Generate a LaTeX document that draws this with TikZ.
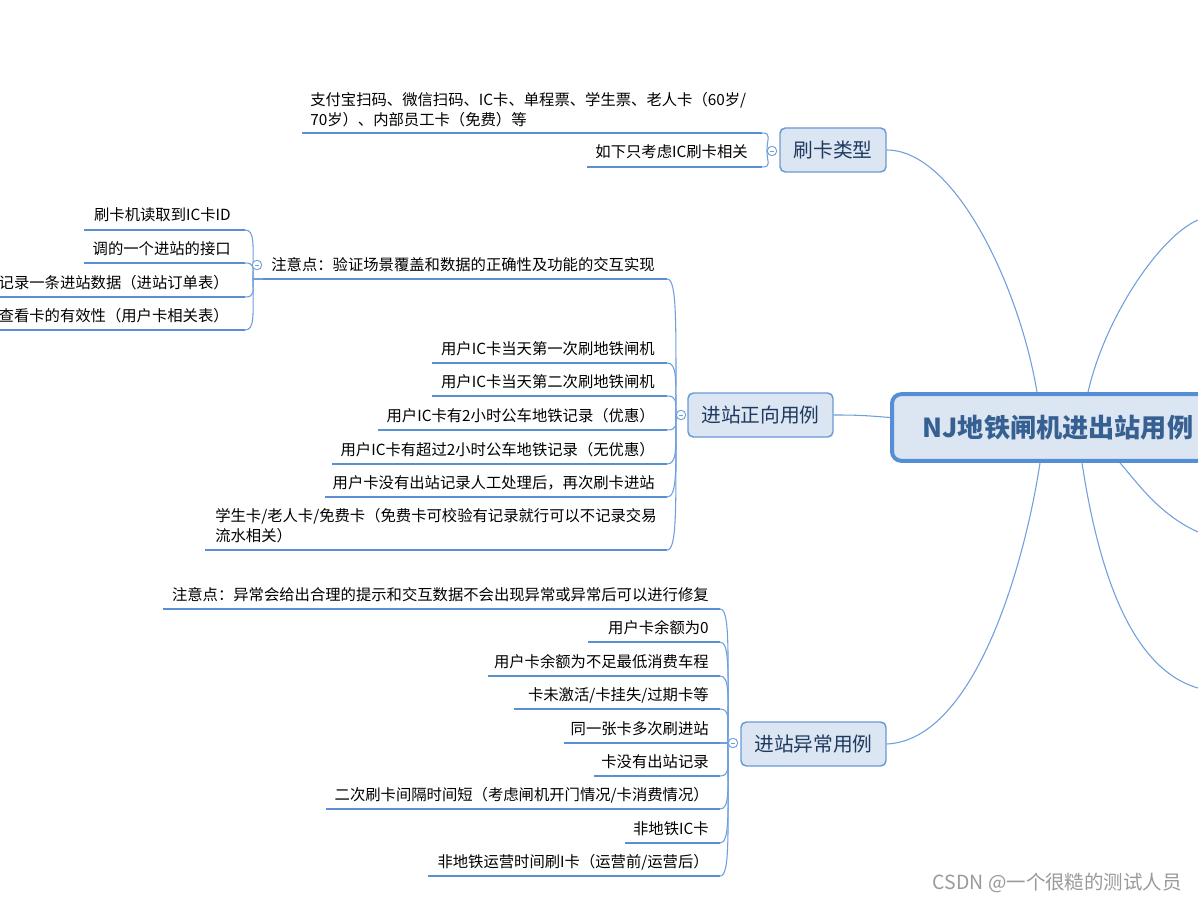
\documentclass[tikz,border=0pt]{standalone}
\usepackage{fontspec}
\setmainfont{Noto Sans CJK SC}
\usetikzlibrary{calc}
\definecolor{ulc}{HTML}{5B8FD3}
\definecolor{cnc}{HTML}{6F9FDC}
\definecolor{boxfill}{HTML}{DCE6F2}
\definecolor{boxdraw}{HTML}{6A9AD6}
\definecolor{cdraw}{HTML}{558ED5}
\definecolor{ctext}{HTML}{376092}
\definecolor{btext}{HTML}{1F3A60}
\definecolor{wmtext}{HTML}{9A9A9A}
\tikzset{
 uline/.style={draw=ulc, line width=2.2pt},
 conn/.style={draw=cnc, line width=0.8pt},
 leaf/.style={font=\fontsize{11.5}{15}\selectfont, inner sep=0pt, text=black},
 topic/.style={draw=boxdraw, fill=boxfill, line width=1.1pt, rounded corners=4pt, minimum height=33pt, font=\fontsize{14.8}{18}\selectfont, text=btext, inner xsep=0pt},
 root/.style={draw=cdraw, fill=boxfill, line width=3pt, rounded corners=7pt, minimum height=50pt, font=\fontsize{19.6}{24}\selectfont\bfseries, text=ctext, inner xsep=23pt},
 marker/.style={circle, draw=cnc, fill=white, line width=0.6pt, minimum size=7pt, inner sep=0pt,
   path picture={\draw[cnc, line width=0.5pt] ([xshift=-1.8pt]path picture bounding box.center) -- ([xshift=1.8pt]path picture bounding box.center);}},
}
\newcommand\mmleaf[6]{%
 \coordinate (#1L) at (#2,#4);
 \coordinate (#1R) at (#3,#4);
 \node[leaf, anchor=base east] (#1) at (#5,#4-9) {#6};
 \draw[uline] (#1L) -- (#1R);
}
\newcommand\mmlink[2]{\draw[conn] let \p1=(#1), \p2=(#2) in (\p1) .. controls +(10,0) and +(0pt,{0.7*(\y1-\y2)}) .. (\p2);}
\begin{document}
\begin{tikzpicture}[x=0.75pt,y=-0.75pt]
\clip (0,0) rectangle (1198,902);
\fill[white] (0,0) rectangle (1198,902);

% right-side connectors (leading off the picture)
\coordinate (r1) at (1198,220);
\coordinate (r2) at (1198,532);
\coordinate (r3) at (1198,688);

% root and main topics
\node[root, anchor=west] (root) at (890,427.5) {NJ地铁闸机进出站用例};
\node[topic, minimum width=79.5pt] (t1) at (833,150) {刷卡类型};
\node[topic, minimum width=108.75pt] (t2) at (760.5,415) {进站正向用例};
\node[topic, minimum width=108.75pt] (t3) at (813.5,744) {进站异常用例};

\draw[conn] (t1.east) .. controls +(69,0) and +(-17,-103) .. ($(root.north west)+(147,0)$);
\draw[conn] (t3.east) .. controls +(89,-4) and +(-15,99) .. ($(root.south west)+(150,0)$);
\draw[conn] (t2.east) .. controls +(25,0) and +(-25,-2) .. ($(root.west)+(0,-10)$);
\draw[conn] ($(root.north west)+(198,0)$) .. controls +(17,-75) and +(-38,16) .. (r1);
\draw[conn] ($(root.south west)+(230,0)$) .. controls +(18,21) and +(-38,-17) .. (r2);
\draw[conn] ($(root.south west)+(192,0)$) .. controls +(18,119) and +(-63,-18) .. (r3);

% markers
\node[marker] (m1) at (772,151) {};
\node[marker] (m2) at (681,415) {};
\node[marker] (m3) at (733,743) {};
\node[marker] (m4) at (257,265) {};
\coordinate (jD) at (253,279);

% group 刷卡类型
\node[leaf, anchor=south west, align=left] (a1) at (310,127) {支付宝扫码、微信扫码、IC卡、单程票、学生票、老人卡（60岁/\\70岁）、内部员工卡（免费）等};
\coordinate (a1L) at (302,133);
\coordinate (a1R) at (762,133);
\draw[uline] (a1L) -- (a1R);
\mmleaf{a2}{587}{762}{167}{748}{如下只考虑IC刷卡相关}
\mmlink{a1R}{m1.west}
\mmlink{a2R}{m1.west}

% group 进站正向用例
\mmleaf{b1}{263}{667}{279}{655}{注意点：验证场景覆盖和数据的正确性及功能的交互实现}
\mmleaf{b2}{432}{667}{363}{655}{用户IC卡当天第一次刷地铁闸机}
\mmleaf{b3}{432}{667}{396}{655}{用户IC卡当天第二次刷地铁闸机}
\mmleaf{b4}{378}{667}{430}{655}{用户IC卡有2小时公车地铁记录（优惠）}
\mmleaf{b5}{332}{667}{464}{655}{用户IC卡有超过2小时公车地铁记录（无优惠）}
\mmleaf{b6}{325}{667}{497}{655}{用户卡没有出站记录人工处理后，再次刷卡进站}
\node[leaf, anchor=south west, align=left] (b7) at (215,543) {学生卡/老人卡/免费卡（免费卡可校验有记录就行可以不记录交易\\流水相关）};
\coordinate (b7L) at (205,550);
\coordinate (b7R) at (667,550);
\draw[uline] (b7L) -- (b7R);
\foreach \c in {b1,b2,b3,b4,b5,b6,b7}{\mmlink{\c R}{m2.west}}

% sub-group of 注意点
\mmleaf{c1}{84}{245}{230}{231}{刷卡机读取到IC卡ID}
\mmleaf{c2}{84}{245}{263}{231}{调的一个进站的接口}
\mmleaf{c3}{0}{245}{297}{229}{记录一条进站数据（进站订单表）}
\mmleaf{c4}{0}{245}{330}{229}{查看卡的有效性（用户卡相关表）}
\draw[conn] (jD) -- (b1L);
\foreach \c in {c1,c2,c3,c4}{\mmlink{\c R}{jD}}

% group 进站异常用例
\mmleaf{d1}{163}{720}{609}{709}{注意点：异常会给出合理的提示和交互数据不会出现异常或异常后可以进行修复}
\mmleaf{d2}{588}{720}{642}{709}{用户卡余额为0}
\mmleaf{d3}{488}{720}{676}{709}{用户卡余额为不足最低消费车程}
\mmleaf{d4}{514}{720}{709}{709}{卡未激活/卡挂失/过期卡等}
\mmleaf{d5}{564}{720}{743}{709}{同一张卡多次刷进站}
\mmleaf{d6}{594}{720}{776}{709}{卡没有出站记录}
\mmleaf{d7}{326}{720}{809}{709}{二次刷卡间隔时间短（考虑闸机开门情况/卡消费情况）}
\mmleaf{d8}{625}{720}{843}{709}{非地铁IC卡}
\mmleaf{d9}{428}{720}{876}{709}{非地铁运营时间刷I卡（运营前/运营后）}
\foreach \c in {d1,d2,d3,d4,d5,d6,d7,d8,d9}{\mmlink{\c R}{m3.west}}

% redraw markers on top
\node[marker] at (m1) {};
\node[marker] at (m2) {};
\node[marker] at (m3) {};
\node[marker] at (m4) {};

% watermark
\node[anchor=base east, font=\fontsize{14.6}{17}\selectfont, text=wmtext, inner sep=0pt] (wm) at (1182,889) {CSDN @一个很糙的测试人员};
\end{tikzpicture}
\end{document}
